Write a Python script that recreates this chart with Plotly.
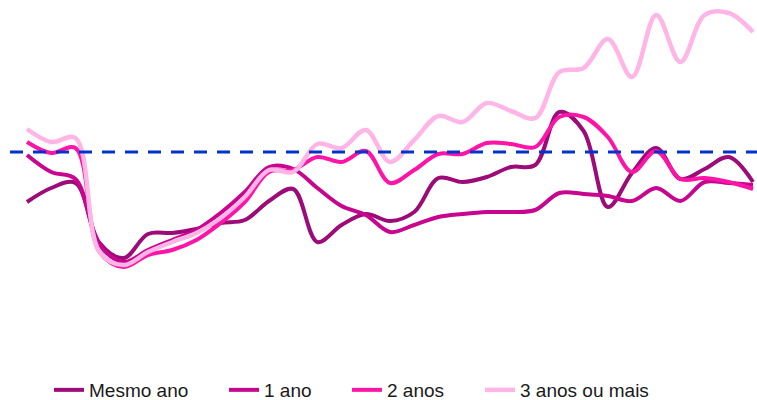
import plotly.graph_objects as go

periods = list(range(31))

mesmo_ano = [87.5, 91, 92.25, 77.25, 73.5, 79.5, 79.75, 80.75, 82.25, 83, 87.75, 90.75,
             77.5, 81.75, 84.5, 82.75, 85, 93.5, 92.5, 93.75, 96.25, 96.75, 110, 105.25,
             86.25, 94.75, 101, 93.25, 95.75, 98.75, 92.5]
um_ano = [99.25, 95, 93.25, 76.75, 72.5, 75.5, 78, 80.5, 84.75, 90, 96.25, 95.75,
          91, 86.5, 84.25, 80, 81.75, 83.75, 84.5, 85, 85, 85.5, 89.75, 89.5,
          89, 87.75, 91, 87.75, 92.5, 92.25, 91.75]
dois_anos = [102.5, 99.75, 101, 75, 71.25, 74.25, 75.5, 78, 82.25, 87.5, 95, 95.5,
             98.75, 97.5, 100.25, 92.25, 95.5, 99.5, 99.5, 102.25, 102, 101.25, 108.75, 108.75,
             103.75, 95, 100.25, 93.25, 93.5, 92.5, 90.75]
tres_anos = [105.75, 102.5, 103.5, 75, 71.75, 75, 77.5, 79.75, 83.5, 88.75, 95.5, 95,
             102, 101, 105.5, 97.5, 103, 109, 107.5, 112.25, 110.25, 108.5, 120, 121,
             128.25, 118.75, 134.25, 122.5, 134.25, 134.75, 130]
reference_level = 100

series = [
    ("Mesmo ano", mesmo_ano, "#9C0B78", 4, "legend", 0.0522),
    ("1 ano", um_ano, "#C8058F", 4, "legend2", 0.2865),
    ("2 anos", dois_anos, "#FF14A8", 4, "legend3", 0.4511),
    ("3 anos ou mais", tres_anos, "#FFB6E6", 4.5, "legend4", 0.6292),
]

fig = go.Figure()
legends = {}
for name, vals, color, w, leg, lx in series:
    fig.add_trace(go.Scatter(
        x=periods, y=vals, name=name, mode="lines", legend=leg,
        line=dict(color=color, width=w, shape="spline", smoothing=1),
    ))
    legends[leg] = dict(orientation="h", x=lx, xanchor="left",
                        yref="container", y=0.025, yanchor="middle",
                        font=dict(size=19), bgcolor="rgba(0,0,0,0)")

fig.add_shape(type="line", xref="paper", x0=0, x1=1, yref="y",
              y0=reference_level, y1=reference_level,
              line=dict(color="#0033CC", width=3, dash="13px,10px"))

fig.update_layout(
    width=757, height=400,
    margin=dict(l=10, r=0, t=0, b=40),
    paper_bgcolor="white", plot_bgcolor="white",
    font=dict(family="Liberation Sans, Arial, sans-serif", size=19, color="#1a1a1a"),
    xaxis=dict(range=[-0.7025, 30.165], visible=False),
    yaxis=dict(range=[48, 138], visible=False),
    showlegend=True,
    **legends,
)

fig.write_html("out.html")
